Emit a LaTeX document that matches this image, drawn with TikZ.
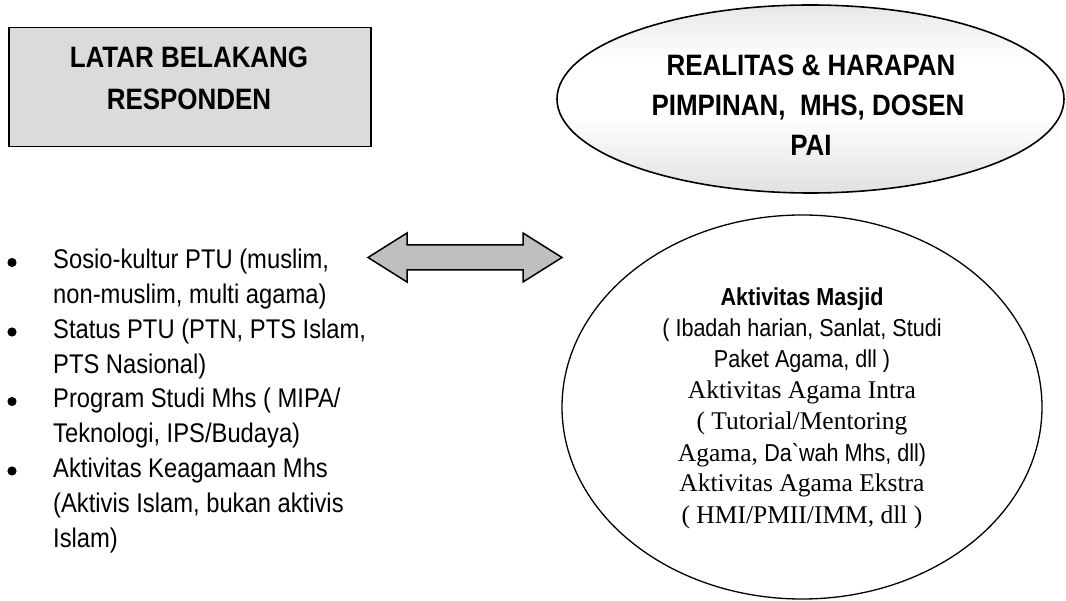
\documentclass[tikz,border=0pt]{standalone}
\usepackage{fontspec}
\setmainfont{Liberation Serif}
\newfontfamily\arialn[FakeStretch=0.88,Ligatures=TeXOff]{Liberation Sans}
\usetikzlibrary{shapes.geometric}
\pgfdeclareverticalshading{topellshade}{100bp}{color(0bp)=(black!42); color(25bp)=(black!12); color(45bp)=(white); color(60bp)=(white); color(80bp)=(black!12); color(100bp)=(black!35)}
\tikzset{
  titletext/.style={anchor=base, inner sep=0pt, font=\arialn\bfseries\fontsize{29.5}{41}\selectfont},
  listtext/.style={anchor=base west, inner sep=0pt, font=\arialn\fontsize{27}{34}\selectfont},
  insans/.style={anchor=base, inner sep=0pt, font=\arialn\fontsize{24.5}{31}\selectfont},
  inserif/.style={anchor=base, inner sep=0pt, font=\fontsize{25.5}{31}\selectfont},
  bulletdot/.style={fill=black},
}
\begin{document}
\begin{tikzpicture}[x=1pt,y=-1pt]
\useasboundingbox (0,0) rectangle (1066,601);
% box
\node[draw, line width=1.5pt, fill=black!14, minimum width=362pt, minimum height=119pt, anchor=north west, inner sep=0pt] (box) at (8,27) {};
\node[titletext] (b1) at (189,68) {LATAR BELAKANG};
\node[titletext] (b2) at (189,110) {RESPONDEN};
% top ellipse
\node[ellipse, draw, line width=1.6pt, minimum width=507pt, minimum height=188pt, inner sep=0pt,
      shading=topellshade] (top) at (810.5,99) {};
\node[titletext] (t1) at (811,76) {REALITAS \& HARAPAN};
\node[titletext] (t2) at (808,116) {PIMPINAN,\ \ MHS, DOSEN};
\node[titletext] (t3) at (811,156) {PAI};
% double arrow
\draw[line width=1.5pt, fill=black!25, line join=miter]
  (368,257.5) -- (407,233) -- (407,245) -- (523,245) -- (523,233) -- (562,257.5)
  -- (523,282) -- (523,270) -- (407,270) -- (407,282) -- cycle;
% list
\node[listtext] (l1) at (53,269) {Sosio-kultur PTU (muslim,};
\node[listtext] (l2) at (53,303.75) {non-muslim, multi agama)};
\node[listtext] (l3) at (53,338.5) {Status PTU (PTN, PTS Islam,};
\node[listtext] (l4) at (53,373.25) {PTS Nasional)};
\node[listtext] (l5) at (53,408) {Program Studi Mhs ( MIPA/};
\node[listtext] (l6) at (53,442.75) {Teknologi, IPS/Budaya)};
\node[listtext] (l7) at (53,477.5) {Aktivitas Keagamaan Mhs};
\node[listtext] (l8) at (53,512.25) {(Aktivis Islam, bukan aktivis};
\node[listtext] (l9) at (53,547) {Islam)};
\foreach \n in {l1,l3,l5,l7}
  \fill[bulletdot] ([xshift=-41pt,yshift=6.5pt]\n.base west) circle (4.6pt);
% bottom ellipse
\node[ellipse, draw, line width=1.3pt, fill=white, minimum width=480pt, minimum height=384pt, inner sep=0pt] (bot) at (802,407) {};
\node[insans, font=\arialn\bfseries\fontsize{24.5}{31}\selectfont] (e1) at (802,306) {Aktivitas Masjid};
\node[insans] (e2) at (802,337) {( Ibadah harian, Sanlat, Studi};
\node[insans] (e3) at (802,368) {Paket Agama, dll )};
\node[inserif] (e4) at (802,399) {Aktivitas Agama Intra};
\node[inserif] (e5) at (802,430) {( Tutorial/Mentoring};
\node[inserif] (e6) at (802,461) {Agama, {\arialn\fontsize{24.5}{31}\selectfont Da`wah Mhs, dll)}};
\node[inserif] (e7) at (802,492) {Aktivitas Agama Ekstra};
\node[inserif] (e8) at (802,523) {( HMI/PMII/IMM, dll )};
\end{tikzpicture}
\end{document}
